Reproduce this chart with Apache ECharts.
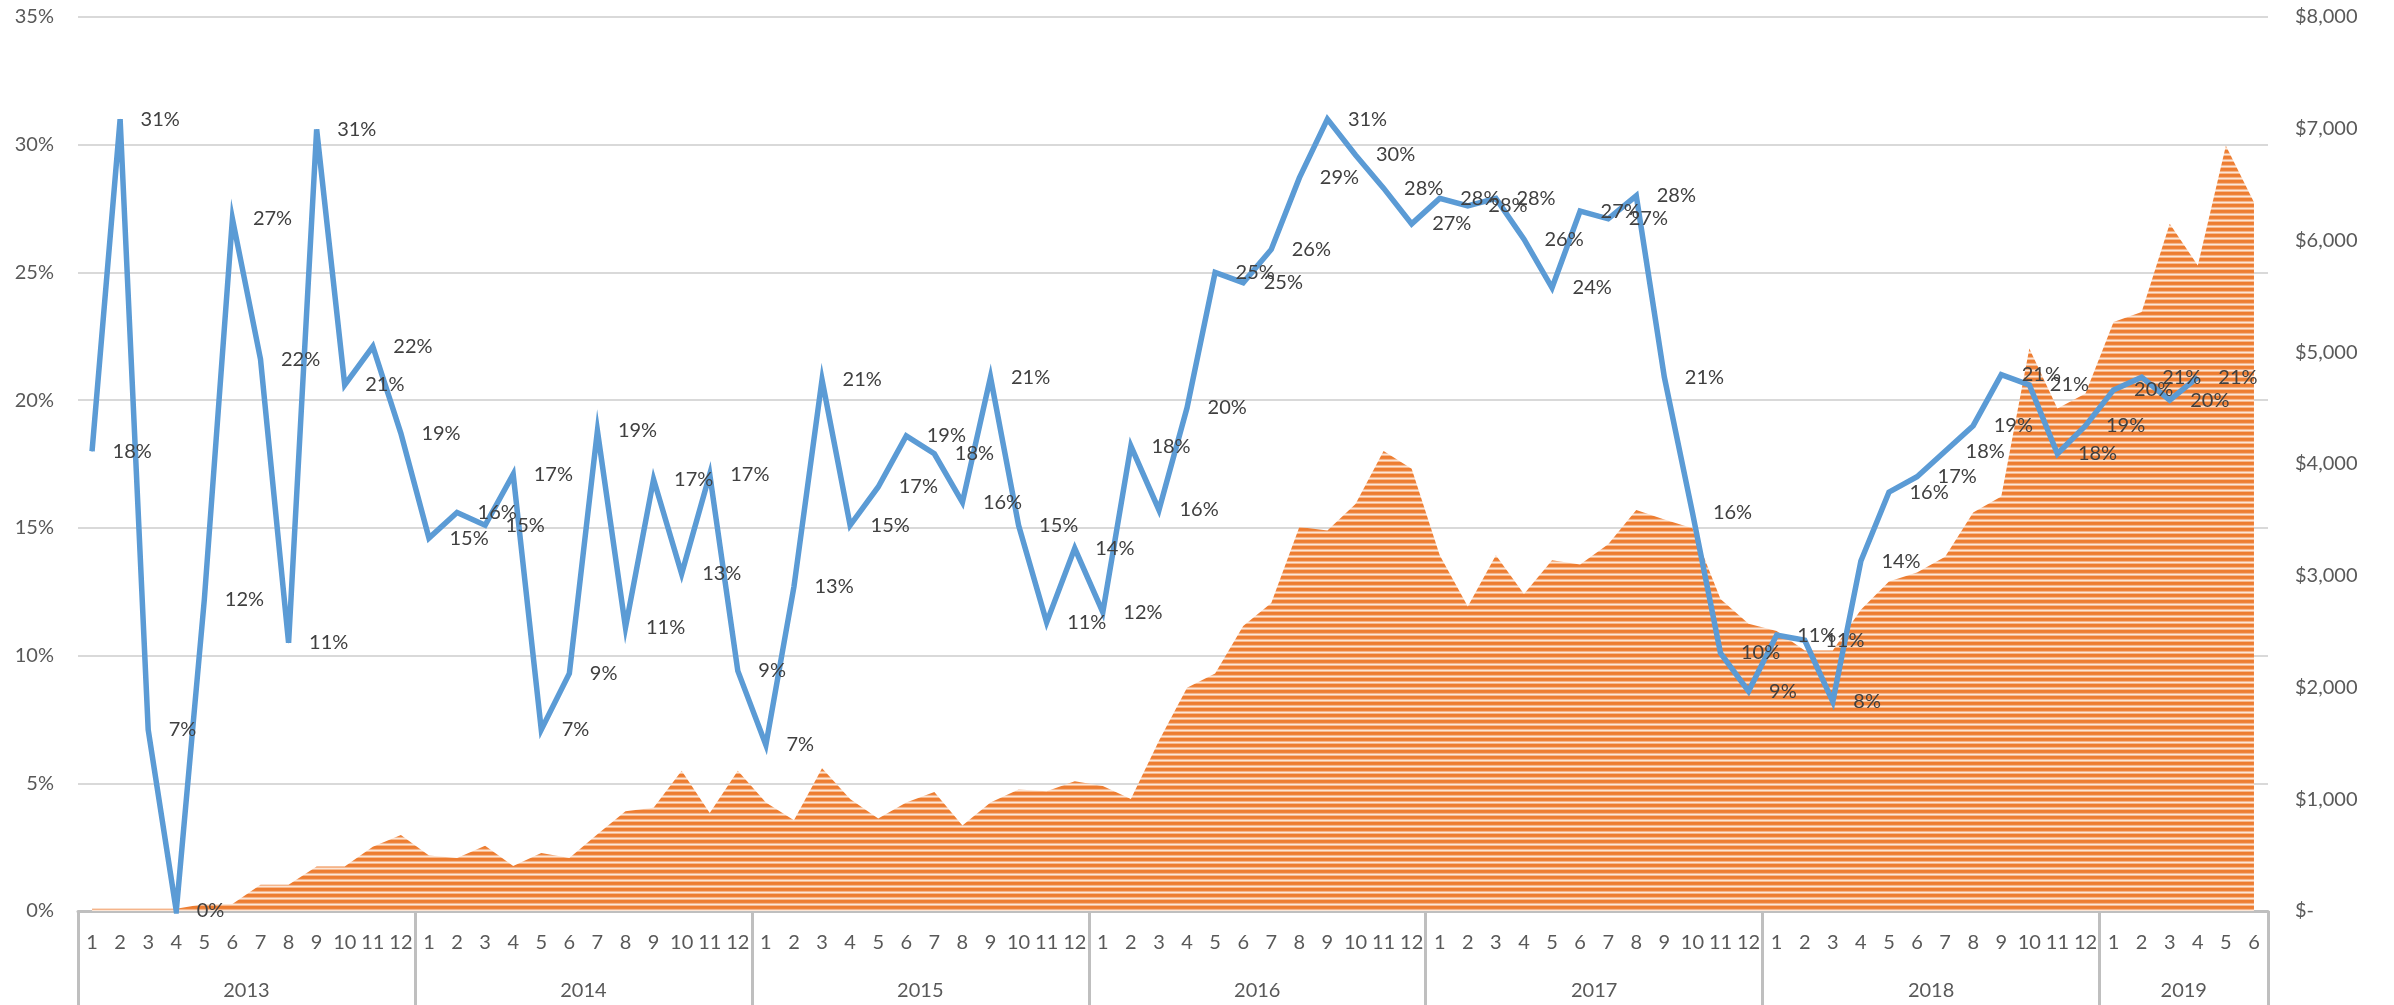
<!DOCTYPE html>
<html>
<head>
<meta charset="utf-8">
<title>Monthly rate and amount, 2013-2019</title>
<script src="https://cdn.jsdelivr.net/npm/echarts@6/dist/echarts.min.js"></script>
<style>
  html, body { margin: 0; padding: 0; background: #fff; }
  #chart { width: 2394px; height: 1005px; }
</style>
</head>
<body>
<div id="chart"></div>
<script>
// years on the lower axis row and how many months each one covers
const years = ['2013', '2014', '2015', '2016', '2017', '2018', '2019'];
const monthsPerYear = [12, 12, 12, 12, 12, 12, 6];

// blue line, percent (left axis)
const rate = [
  18.0, 31.0, 7.1, 0.0, 12.2, 27.1, 21.6, 10.5, 30.6, 20.6, 22.1, 18.7,
  14.6, 15.6, 15.1, 17.1, 7.1, 9.3, 18.8, 11.1, 16.9, 13.2, 17.1, 9.4,
  6.5, 12.7, 20.8, 15.1, 16.6, 18.6, 17.9, 16.0, 20.9, 15.1, 11.3, 14.2,
  11.7, 18.2, 15.7, 19.7, 25.0, 24.6, 25.9, 28.7, 31.0, 29.6, 28.3, 26.9,
  27.9, 27.6, 27.9, 26.3, 24.4, 27.4, 27.1, 28.0, 20.9, 15.6, 10.1, 8.6,
  10.8, 10.6, 8.2, 13.7, 16.4, 17.0, 18.0, 19.0, 21.0, 20.6, 17.9, 19.0,
  20.4, 20.9, 20.0, 20.9
];

// orange area, dollars (right axis)
const amount = [
  20, 20, 20, 20, 63, 63, 234, 234, 398, 398, 575, 680,
  496, 474, 585, 402, 518, 474, 686, 892, 923, 1255, 876, 1255,
  971, 812, 1277, 1002, 828, 971, 1065, 765, 971, 1088, 1072, 1160,
  1119, 1002, 1524, 1998, 2125, 2551, 2757, 3437, 3405, 3642, 4116, 3958,
  3184, 2725, 3184, 2836, 3139, 3101, 3282, 3589, 3503, 3424, 2791, 2570,
  2506, 2332, 2332, 2696, 2949, 3028, 3171, 3566, 3710, 5033, 4497, 4631,
  5271, 5360, 6149, 5777, 6848, 6342
];

// month labels + year boundaries / centres built from the lists above
let months = [];
let yearEdges = [0];
let yearCenters = [];
let total = 0;
for (let i = 0; i < years.length; i++) {
  for (let m = 1; m <= monthsPerYear[i]; m++) months.push(String(m));
  yearCenters.push(total + monthsPerYear[i] / 2);
  total += monthsPerYear[i];
  yearEdges.push(total);
}

// horizontal stripe fill like the excel pattern
function stripes() {
  let c = document.createElement('canvas');
  c.width = 4;
  c.height = 6;
  let ctx = c.getContext('2d');
  let rows = ['#ED7D31', '#ED7D31', '#EE8339', '#F5B48A', '#FCE6D6', '#F6B98F'];
  rows.forEach((col, i) => {
    ctx.fillStyle = col;
    ctx.fillRect(0, i, 4, 1);
  });
  return c;
}

const font = 'Lato, "Open Sans", sans-serif';
const grey = '#595959';

let myChart = echarts.init(document.getElementById('chart'));
let option = {
  animation: false,
  backgroundColor: '#ffffff',
  grid: {left: 78, right: 126, top: 17, bottom: 94, containLabel: false},
  xAxis: [
    {
      type: 'category',
      data: months,
      position: 'bottom',
      boundaryGap: true,
      axisLine: {show: true, onZero: false, lineStyle: {color: '#BFBFBF', width: 3}},
      axisTick: {show: false},
      splitLine: {show: false},
      axisLabel: {
        interval: 0, hideOverlap: false, margin: 22,
        color: grey, fontSize: 20, fontFamily: font
      }
    },
    {
      type: 'value',
      min: 0,
      max: total,
      position: 'bottom',
      offset: 0,
      axisLine: {show: false, onZero: false},
      splitLine: {show: false},
      axisTick: {
        show: true, length: 94, customValues: yearEdges,
        lineStyle: {color: '#BFBFBF', width: 3}
      },
      axisLabel: {
        customValues: yearCenters, margin: 70,
        color: grey, fontSize: 20, fontFamily: font,
        formatter: function (v) {
          let idx = yearCenters.indexOf(v);
          return idx >= 0 ? years[idx] : '';
        }
      }
    }
  ],
  yAxis: [
    {
      type: 'value',
      min: 0, max: 35, interval: 5,
      position: 'left',
      axisLine: {show: false},
      axisTick: {show: false},
      splitLine: {show: true, lineStyle: {color: '#D9D9D9', width: 2}},
      axisLabel: {
        margin: 24, color: grey, fontSize: 20, fontFamily: font,
        formatter: v => v + '%'
      }
    },
    {
      type: 'value',
      min: 0, max: 8000, interval: 1000,
      position: 'right',
      axisLine: {show: false},
      axisTick: {show: false},
      splitLine: {show: false},
      axisLabel: {
        margin: 27, align: 'left', color: grey, fontSize: 20, fontFamily: font,
        formatter: v => v === 0 ? '$-' : '$' + v.toLocaleString('en-US')
      }
    }
  ],
  series: [
    {
      name: 'amount',
      type: 'line',
      xAxisIndex: 0,
      yAxisIndex: 1,
      data: amount,
      symbol: 'none',
      lineStyle: {width: 0},
      areaStyle: {color: {image: stripes(), repeat: 'repeat'}, opacity: 1},
      z: 1
    },
    {
      name: 'rate',
      type: 'line',
      xAxisIndex: 0,
      yAxisIndex: 0,
      data: rate,
      symbol: 'circle',
      symbolSize: 1,
      showSymbol: true,
      itemStyle: {color: '#5B9BD5'},
      lineStyle: {color: '#5B9BD5', width: 5.5, join: 'miter'},
      label: {
        show: true, position: 'right', distance: 20,
        color: '#404040', fontSize: 20, fontFamily: font,
        formatter: p => Math.round(p.value) + '%'
      },
      z: 3
    }
  ]
};
myChart.setOption(option);
</script>
</body>
</html>
